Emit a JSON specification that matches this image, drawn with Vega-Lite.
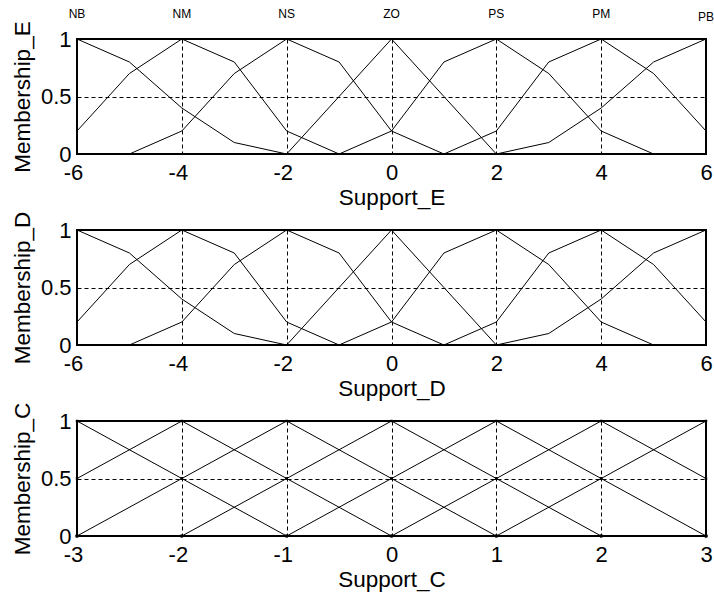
{
  "$schema": "https://vega.github.io/schema/vega-lite/v6.json",
  "background": "white",
  "padding": {"left": 10, "top": 7, "right": 0, "bottom": 5},
  "config": {
    "font": "Liberation Sans",
    "view": {"stroke": "black", "strokeWidth": 2},
    "axis": {
      "labelFont": "Liberation Sans",
      "titleFont": "Liberation Sans",
      "labelColor": "black",
      "titleColor": "black",
      "labelFontSize": 22,
      "titleFontSize": 22.5,
      "titleFontWeight": "normal",
      "domain": false,
      "ticks": false,
      "grid": true,
      "gridColor": "black",
      "gridOpacity": 1,
      "gridWidth": 1,
      "gridDash": [4, 3],
      "labelOverlap": false,
      "labelFlush": false
    }
  },
  "datasets": {
    "ed": [
      {"x": -6, "NB": 1, "NM": 0.2, "NS": 0, "ZO": 0, "PS": 0, "PM": 0, "PB": 0},
      {"x": -5, "NB": 0.8, "NM": 0.7, "NS": 0, "ZO": 0, "PS": 0, "PM": 0, "PB": 0},
      {"x": -4, "NB": 0.4, "NM": 1, "NS": 0.2, "ZO": 0, "PS": 0, "PM": 0, "PB": 0},
      {"x": -3, "NB": 0.1, "NM": 0.8, "NS": 0.7, "ZO": 0, "PS": 0, "PM": 0, "PB": 0},
      {"x": -2, "NB": 0, "NM": 0.2, "NS": 1, "ZO": 0, "PS": 0, "PM": 0, "PB": 0},
      {"x": -1, "NB": 0, "NM": 0, "NS": 0.8, "ZO": 0.5, "PS": 0, "PM": 0, "PB": 0},
      {"x": 0, "NB": 0, "NM": 0, "NS": 0.2, "ZO": 1, "PS": 0.2, "PM": 0, "PB": 0},
      {"x": 1, "NB": 0, "NM": 0, "NS": 0, "ZO": 0.5, "PS": 0.8, "PM": 0, "PB": 0},
      {"x": 2, "NB": 0, "NM": 0, "NS": 0, "ZO": 0, "PS": 1, "PM": 0.2, "PB": 0},
      {"x": 3, "NB": 0, "NM": 0, "NS": 0, "ZO": 0, "PS": 0.7, "PM": 0.8, "PB": 0.1},
      {"x": 4, "NB": 0, "NM": 0, "NS": 0, "ZO": 0, "PS": 0.2, "PM": 1, "PB": 0.4},
      {"x": 5, "NB": 0, "NM": 0, "NS": 0, "ZO": 0, "PS": 0, "PM": 0.7, "PB": 0.8},
      {"x": 6, "NB": 0, "NM": 0, "NS": 0, "ZO": 0, "PS": 0, "PM": 0.2, "PB": 1}
    ],
    "c": [
      {"x": -3, "NB": 1, "NM": 0.5, "NS": 0, "ZO": 0, "PS": 0, "PM": 0, "PB": 0},
      {"x": -2, "NB": 0.5, "NM": 1, "NS": 0.5, "ZO": 0, "PS": 0, "PM": 0, "PB": 0},
      {"x": -1, "NB": 0, "NM": 0.5, "NS": 1, "ZO": 0.5, "PS": 0, "PM": 0, "PB": 0},
      {"x": 0, "NB": 0, "NM": 0, "NS": 0.5, "ZO": 1, "PS": 0.5, "PM": 0, "PB": 0},
      {"x": 1, "NB": 0, "NM": 0, "NS": 0, "ZO": 0.5, "PS": 1, "PM": 0.5, "PB": 0},
      {"x": 2, "NB": 0, "NM": 0, "NS": 0, "ZO": 0, "PS": 0.5, "PM": 1, "PB": 0.5},
      {"x": 3, "NB": 0, "NM": 0, "NS": 0, "ZO": 0, "PS": 0, "PM": 0.5, "PB": 1}
    ],
    "peaks": [
      {"x": -6, "mu": 1, "set": "NB"},
      {"x": -4, "mu": 1, "set": "NM"},
      {"x": -2, "mu": 1, "set": "NS"},
      {"x": 0, "mu": 1, "set": "ZO"},
      {"x": 2, "mu": 1, "set": "PS"},
      {"x": 4, "mu": 1, "set": "PM"},
      {"x": 6, "mu": 1, "set": "PB"}
    ]
  },
  "bounds": "flush",
  "spacing": 76,
  "vconcat": [
    {
      "width": 629,
      "height": 115,
      "layer": [
        {
          "data": {"name": "ed"},
          "transform": [{"fold": ["NB", "NM", "NS", "ZO", "PS", "PM", "PB"], "as": ["set", "mu"]}],
          "mark": {"type": "line", "color": "black", "strokeWidth": 1},
          "encoding": {
            "x": {
              "field": "x", "type": "quantitative",
              "scale": {"domain": [-6, 6], "nice": false, "zero": false},
              "axis": {
                "title": "Support_E", "values": [-6, -4, -2, 0, 2, 4, 6],
                "labelExpr": "'' + datum.value", "labelPadding": 8, "titlePadding": 3,
                "labelOffset": {"condition": {"test": "datum.value < 0", "value": -4}, "value": 0}
              }
            },
            "y": {
              "field": "mu", "type": "quantitative",
              "scale": {"domain": [0, 1], "nice": false},
              "axis": {"title": "Membership_E", "values": [0, 0.5, 1], "labelExpr": "'' + datum.value", "labelPadding": 6, "titlePadding": 6}
            },
            "detail": {"field": "set"}
          }
        },
        {
          "data": {"name": "peaks"},
          "transform": [{"filter": "datum.set != 'PB'"}],
          "mark": {"type": "text", "fontSize": 12, "color": "black", "baseline": "middle", "align": "center", "dy": -25, "clip": false},
          "encoding": {
            "x": {"field": "x", "type": "quantitative"},
            "y": {"field": "mu", "type": "quantitative"},
            "text": {"field": "set"}
          }
        },
        {
          "data": {"name": "peaks"},
          "transform": [{"filter": "datum.set == 'PB'"}],
          "mark": {"type": "text", "fontSize": 12, "color": "black", "baseline": "middle", "align": "center", "dy": -22, "clip": false},
          "encoding": {
            "x": {"field": "x", "type": "quantitative"},
            "y": {"field": "mu", "type": "quantitative"},
            "text": {"field": "set"}
          }
        }
      ]
    },
    {
      "width": 629,
      "height": 115,
      "data": {"name": "ed"},
      "transform": [{"fold": ["NB", "NM", "NS", "ZO", "PS", "PM", "PB"], "as": ["set", "mu"]}],
      "mark": {"type": "line", "color": "black", "strokeWidth": 1},
      "encoding": {
        "x": {
          "field": "x", "type": "quantitative",
          "scale": {"domain": [-6, 6], "nice": false, "zero": false},
          "axis": {
            "title": "Support_D", "values": [-6, -4, -2, 0, 2, 4, 6],
            "labelExpr": "'' + datum.value", "labelPadding": 8, "titlePadding": 3,
            "labelOffset": {"condition": {"test": "datum.value < 0", "value": -4}, "value": 0}
          }
        },
        "y": {
          "field": "mu", "type": "quantitative",
          "scale": {"domain": [0, 1], "nice": false},
          "axis": {"title": "Membership_D", "values": [0, 0.5, 1], "labelExpr": "'' + datum.value", "labelPadding": 6, "titlePadding": 6}
        },
        "detail": {"field": "set"}
      }
    },
    {
      "width": 629,
      "height": 115,
      "data": {"name": "c"},
      "transform": [{"fold": ["NB", "NM", "NS", "ZO", "PS", "PM", "PB"], "as": ["set", "mu"]}],
      "encoding": {
        "x": {
          "field": "x", "type": "quantitative",
          "scale": {"domain": [-3, 3], "nice": false, "zero": false},
          "axis": {
            "title": "Support_C", "values": [-3, -2, -1, 0, 1, 2, 3],
            "labelExpr": "'' + datum.value", "labelPadding": 8, "titlePadding": 3,
            "labelOffset": {"condition": {"test": "datum.value < 0", "value": -4}, "value": 0}
          }
        },
        "y": {
          "field": "mu", "type": "quantitative",
          "scale": {"domain": [0, 1], "nice": false},
          "axis": {"title": "Membership_C", "values": [0, 0.5, 1], "labelExpr": "'' + datum.value", "labelPadding": 6, "titlePadding": 6}
        },
        "detail": {"field": "set"}
      },
      "layer": [
        {"mark": {"type": "line", "color": "black", "strokeWidth": 1}},
        {"mark": {"type": "square", "color": "black", "filled": true, "size": 6, "opacity": 1}}
      ]
    }
  ]
}
